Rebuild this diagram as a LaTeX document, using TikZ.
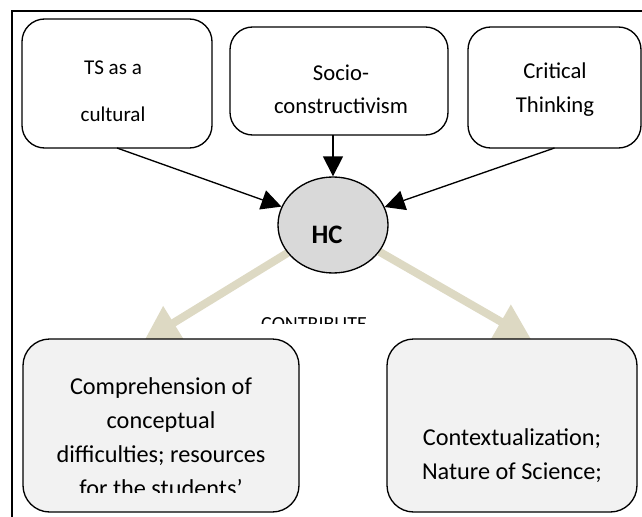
\documentclass[tikz,border=0pt]{standalone}
\usepackage{fontspec}
\setmainfont{Carlito}
\usepackage{xcolor}
\usetikzlibrary{arrows.meta,shapes.geometric,backgrounds}
\definecolor{tanline}{HTML}{DDD9C3}
\definecolor{hcgray}{HTML}{D9D9D9}
\definecolor{boxgray}{HTML}{F2F2F2}

\begin{document}
\begin{tikzpicture}[x=0.75pt,y=-0.75pt,
  topbox/.style={draw,line width=1pt,rounded corners=17pt,fill=white,inner sep=0pt,outer sep=0pt},
  lowbox/.style={draw,line width=1pt,rounded corners=20pt,fill=boxgray,inner sep=0pt,outer sep=0pt},
  toptxt/.style={anchor=base,align=center,inner sep=0pt,font=\fontsize{17}{25}\selectfont},
  lowtxt/.style={anchor=base,align=center,inner sep=0pt,font=\fontsize{18.2}{25.5}\selectfont},
  feeds/.style={line width=1pt,-{Triangle[length=15pt,width=15pt]}},
  gives/.style={draw=tanline,line width=6pt,-{Triangle[length=26pt,width=28pt]}}]
\useasboundingbox (0,0) rectangle (642,517);
\draw[line width=1.1pt] (12,517) -- (12,11) -- (642,11);
% upper boxes
\node[topbox,minimum width=142.5pt,minimum height=96.75pt] (b1) at (117,83.5) {};
\node[topbox,minimum width=163.5pt,minimum height=81pt] (b2) at (339,81) {};
\node[topbox,minimum width=129.75pt,minimum height=90.75pt] (b3) at (554.5,87.5) {};
\node[toptxt,font=\fontsize{15.8}{35}\selectfont] (t1) at (113,121) {TS as a\\cultural};
\node[toptxt] (t2) at (341,113.5) {Socio-\\constructivism};
\node[toptxt] (t3) at (555,112) {Critical\\Thinking};
% centre
\node[ellipse,draw,line width=1pt,fill=hcgray,minimum width=82.5pt,minimum height=72pt,inner sep=0pt] (hc) at (333,225) {};
\node[anchor=base,inner sep=0pt,font=\fontsize{20}{24}\selectfont\bfseries] (hclbl) at (327,243.5) {HC};
% lower boxes
\node[lowbox,minimum width=207pt,minimum height=129.75pt] (b4) at (161,425.5) {};
\node[lowbox,minimum width=187.5pt,minimum height=129.75pt] (b5) at (512,425.5) {};
\begin{scope}
\clip (23,339) rectangle (299,492);
\node[lowtxt] (t4) at (161,496) {Comprehension of\\conceptual\\difficulties; resources\\for the students'};
\end{scope}
\node[lowtxt] (t5) at (512,479) {Contextualization;\\Nature of Science;};
\begin{scope}
\clip (240,300) rectangle (390,323);
\node[anchor=base,inner sep=0pt,font=\fontsize{15}{18}\selectfont] (contrib) at (314,330) {CONTRIBUTE};
\end{scope}
% arrows
\draw[feeds] (b1.south) -- (hc);
\draw[feeds] (hc |- b2.south) -- (hc);
\draw[feeds] (b3.south) -- (hc);
\coordinate (ltip) at (144,341);
\coordinate (rtip) at (531,339);
\begin{scope}[on background layer]
\draw[gives] (hc) -- (ltip);
\draw[gives] (hc) -- (rtip);
\end{scope}
\end{tikzpicture}
\end{document}
